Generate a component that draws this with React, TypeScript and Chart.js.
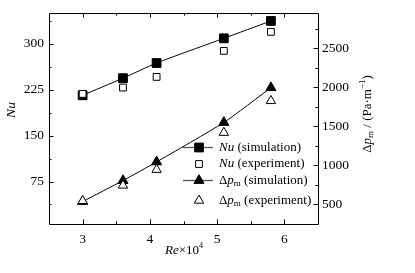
import React, { useEffect, useRef } from 'react';
import { Chart, registerables } from 'chart.js';
Chart.register(...registerables);

const reValues = [3.0, 3.6, 4.1, 5.1, 5.8];
const nuSimulation = [215.8, 243.7, 268.5, 308.8, 337.2];
const nuExperiment = [218, 228.4, 245.8, 288.3, 319.4];
const dpSimulation = [532, 801, 1041, 1547, 1993];
const dpExperiment = [541, 739, 941, 1416, 1824];
const xTicks = [3, 4, 5, 6];
const xMinorTicks = [3.5, 4.5, 5.5];
const nuTicks = [75, 150, 225, 300];
const nuMinorTicks = [37.5, 112.5, 187.5, 262.5, 337.5];
const dpTicks = [500, 1000, 1500, 2000, 2500];
const dpMinorTicks = [750, 1250, 1750, 2250, 2750];

const SERIF = "'Liberation Serif', 'DejaVu Serif', serif";

type Seg = { t: string; italic?: boolean; size?: number; dy?: number };

function segWidth(ctx: CanvasRenderingContext2D, segs: Seg[], base: number) {
  let w = 0;
  for (const s of segs) {
    ctx.font = `${s.italic ? 'italic ' : ''}${s.size ?? base}px ${SERIF}`;
    w += ctx.measureText(s.t).width;
  }
  return w;
}

function drawRich(ctx: CanvasRenderingContext2D, segs: Seg[], x: number, y: number, base: number) {
  let cx = x;
  ctx.textBaseline = 'middle';
  ctx.textAlign = 'left';
  for (const s of segs) {
    ctx.font = `${s.italic ? 'italic ' : ''}${s.size ?? base}px ${SERIF}`;
    ctx.fillText(s.t, cx, y + (s.dy ?? 0));
    cx += ctx.measureText(s.t).width;
  }
}

function drawMarker(ctx: CanvasRenderingContext2D, style: string, x: number, y: number, r: number, filled: boolean) {
  ctx.beginPath();
  if (style === 'rect') {
    const s = Math.SQRT1_2 * r;
    ctx.rect(x - s, y - s, 2 * s, 2 * s);
  } else {
    let rad = 0;
    ctx.moveTo(x + Math.sin(rad) * r, y - Math.cos(rad) * r);
    rad += (2 * Math.PI) / 3;
    ctx.lineTo(x + Math.sin(rad) * r, y - Math.cos(rad) * r);
    rad += (2 * Math.PI) / 3;
    ctx.lineTo(x + Math.sin(rad) * r, y - Math.cos(rad) * r);
    ctx.closePath();
  }
  ctx.fillStyle = filled ? '#000' : '#fff';
  ctx.fill();
  ctx.strokeStyle = '#000';
  ctx.lineWidth = 1;
  ctx.stroke();
}

const decorPlugin = {
  id: 'decor',
  afterDraw(chart: any) {
    const ctx: CanvasRenderingContext2D = chart.ctx;
    const { left, right, top, bottom } = chart.chartArea;
    const x = chart.scales.x;
    const y = chart.scales.y;
    const y2 = chart.scales.y2;
    ctx.save();
    ctx.strokeStyle = '#000';
    ctx.lineWidth = 1;
    ctx.beginPath();
    ctx.rect(Math.round(left) + 0.5, Math.round(top) + 0.5, Math.round(right - left), Math.round(bottom - top));
    ctx.stroke();
    const major = 4.5;
    const minor = 2.5;
    ctx.beginPath();
    const hTick = (v: number, len: number) => {
      const px = Math.round(x.getPixelForValue(v)) + 0.5;
      ctx.moveTo(px, bottom);
      ctx.lineTo(px, bottom - len);
      ctx.moveTo(px, top);
      ctx.lineTo(px, top + len);
    };
    xTicks.forEach((v) => hTick(v, major));
    xMinorTicks.forEach((v) => hTick(v, minor));
    const lTick = (v: number, len: number) => {
      const py = Math.round(y.getPixelForValue(v)) + 0.5;
      ctx.moveTo(left, py);
      ctx.lineTo(left + len, py);
    };
    nuTicks.forEach((v) => lTick(v, major));
    nuMinorTicks.forEach((v) => lTick(v, minor));
    const rTick = (v: number, len: number) => {
      const py = Math.round(y2.getPixelForValue(v)) + 0.5;
      ctx.moveTo(right, py);
      ctx.lineTo(right - len, py);
    };
    dpTicks.forEach((v) => rTick(v, major));
    dpMinorTicks.forEach((v) => rTick(v, minor));
    ctx.stroke();

    ctx.fillStyle = '#000';
    const xt: Seg[] = [{ t: 'Re', italic: true }, { t: '×10' }, { t: '4', size: 8, dy: -5 }];
    const xw = segWidth(ctx, xt, 13);
    drawRich(ctx, xt, 184 - xw / 2, 251, 13);

    ctx.save();
    ctx.translate(11, 110);
    ctx.rotate(-Math.PI / 2);
    const lt: Seg[] = [{ t: 'Nu', italic: true }];
    const lw = segWidth(ctx, lt, 13.5);
    drawRich(ctx, lt, -lw / 2, 0, 13.5);
    ctx.restore();

    ctx.save();
    ctx.translate(368, 114);
    ctx.rotate(-Math.PI / 2);
    const rt: Seg[] = [
      { t: 'Δ' },
      { t: 'p', italic: true },
      { t: 'm', size: 9, dy: 3 },
      { t: ' / (Pa·m' },
      { t: '−1', size: 9, dy: -5 },
      { t: ')' },
    ];
    const rw = segWidth(ctx, rt, 13);
    drawRich(ctx, rt, -rw / 2, 0, 13);
    ctx.restore();

    const rows = [
      { y: 147.5, style: 'rect', r: 6.2, filled: true, line: true, label: [{ t: 'Nu', italic: true }, { t: ' (simulation)' }] },
      { y: 164, style: 'rect', r: 4.8, filled: false, line: false, label: [{ t: 'Nu', italic: true }, { t: ' (experiment)' }] },
      { y: 180.5, style: 'triangle', r: 5.8, filled: true, line: true, label: [{ t: 'Δ' }, { t: 'p', italic: true }, { t: 'm', size: 9, dy: 3 }, { t: ' (simulation)' }] },
      { y: 200.5, style: 'triangle', r: 5.4, filled: false, line: false, label: [{ t: 'Δ' }, { t: 'p', italic: true }, { t: 'm', size: 9, dy: 3 }, { t: ' (experiment)' }] },
    ];
    for (const row of rows) {
      if (row.line) {
        ctx.strokeStyle = '#555';
        ctx.lineWidth = 1.3;
        ctx.beginPath();
        ctx.moveTo(183, row.y);
        ctx.lineTo(213, row.y);
        ctx.stroke();
      }
      drawMarker(ctx, row.style, 199, row.y, row.r, row.filled);
      ctx.fillStyle = '#000';
      drawRich(ctx, row.label as Seg[], 219, row.y, 13);
    }
    ctx.restore();
  },
};

export default function App() {
  const ref = useRef<HTMLCanvasElement>(null);
  useEffect(() => {
    if (!ref.current) return;
    const mk = (arr: number[]) => reValues.map((v, i) => ({ x: v, y: arr[i] }));
    const tickFont = { family: SERIF, size: 13.5 };
    const plain = (v: any) => String(v);
    const chart = new Chart(ref.current, {
      type: 'line',
      data: {
        datasets: [
          {
            label: 'Nu (simulation)',
            data: mk(nuSimulation),
            yAxisID: 'y',
            borderColor: '#000',
            borderWidth: 1,
            backgroundColor: '#000',
            pointStyle: 'rect',
            pointRadius: 6.2,
            pointBorderWidth: 1,
            pointBorderColor: '#000',
            pointBackgroundColor: '#000',
            tension: 0.2,
            order: 2,
          },
          {
            label: 'Nu (experiment)',
            data: mk(nuExperiment),
            yAxisID: 'y',
            showLine: false,
            borderColor: '#000',
            pointStyle: 'rect',
            pointRadius: 4.8,
            pointBorderWidth: 1,
            pointBorderColor: '#000',
            pointBackgroundColor: '#fff',
            order: 0,
          },
          {
            label: 'Δpm (simulation)',
            data: mk(dpSimulation),
            yAxisID: 'y2',
            borderColor: '#000',
            borderWidth: 1,
            backgroundColor: '#000',
            pointStyle: 'triangle',
            pointRadius: 5.8,
            pointBorderWidth: 1,
            pointBorderColor: '#000',
            pointBackgroundColor: '#000',
            tension: 0.2,
            order: 2,
          },
          {
            label: 'Δpm (experiment)',
            data: mk(dpExperiment),
            yAxisID: 'y2',
            showLine: false,
            borderColor: '#000',
            pointStyle: 'triangle',
            pointRadius: 5.4,
            pointBorderWidth: 1,
            pointBorderColor: '#000',
            pointBackgroundColor: '#fff',
            order: 0,
          },
        ],
      },
      options: {
        responsive: false,
        animation: false,
        devicePixelRatio: 1,
        layout: { padding: { top: 5, left: 0, right: 0, bottom: 0 } },
        plugins: { legend: { display: false }, tooltip: { enabled: false } },
        scales: {
          x: {
            type: 'linear',
            min: 2.5,
            max: 6.5,
            grid: { display: false, drawTicks: false },
            border: { display: false },
            afterBuildTicks: (s: any) => { s.ticks = xTicks.map((v) => ({ value: v })); },
            afterFit: (s: any) => { s.height = 49; },
            ticks: { font: tickFont, color: '#000', padding: 7, maxRotation: 0, callback: plain },
          },
          y: {
            type: 'linear',
            position: 'left',
            min: 5.6,
            max: 350,
            grid: { display: false, drawTicks: false },
            border: { display: false },
            afterBuildTicks: (s: any) => { s.ticks = nuTicks.map((v) => ({ value: v })); },
            afterFit: (s: any) => { s.width = 49; },
            ticks: { font: tickFont, color: '#000', padding: 5, callback: plain },
          },
          y2: {
            type: 'linear',
            position: 'right',
            min: 244,
            max: 2950,
            grid: { display: false, drawTicks: false },
            border: { display: false },
            afterBuildTicks: (s: any) => { s.ticks = dpTicks.map((v) => ({ value: v })); },
            afterFit: (s: any) => { s.width = 97; },
            ticks: { font: tickFont, color: '#000', padding: 4, callback: plain },
          },
        },
      },
      plugins: [decorPlugin],
    } as any);
    return () => chart.destroy();
  }, []);
  return (
    <div style={{ position: 'fixed', left: 0, top: 0, width: 415, height: 273, background: '#fff' }}>
      <canvas ref={ref} width={415} height={273} style={{ width: 415, height: 273, display: 'block' }} />
    </div>
  );
}
